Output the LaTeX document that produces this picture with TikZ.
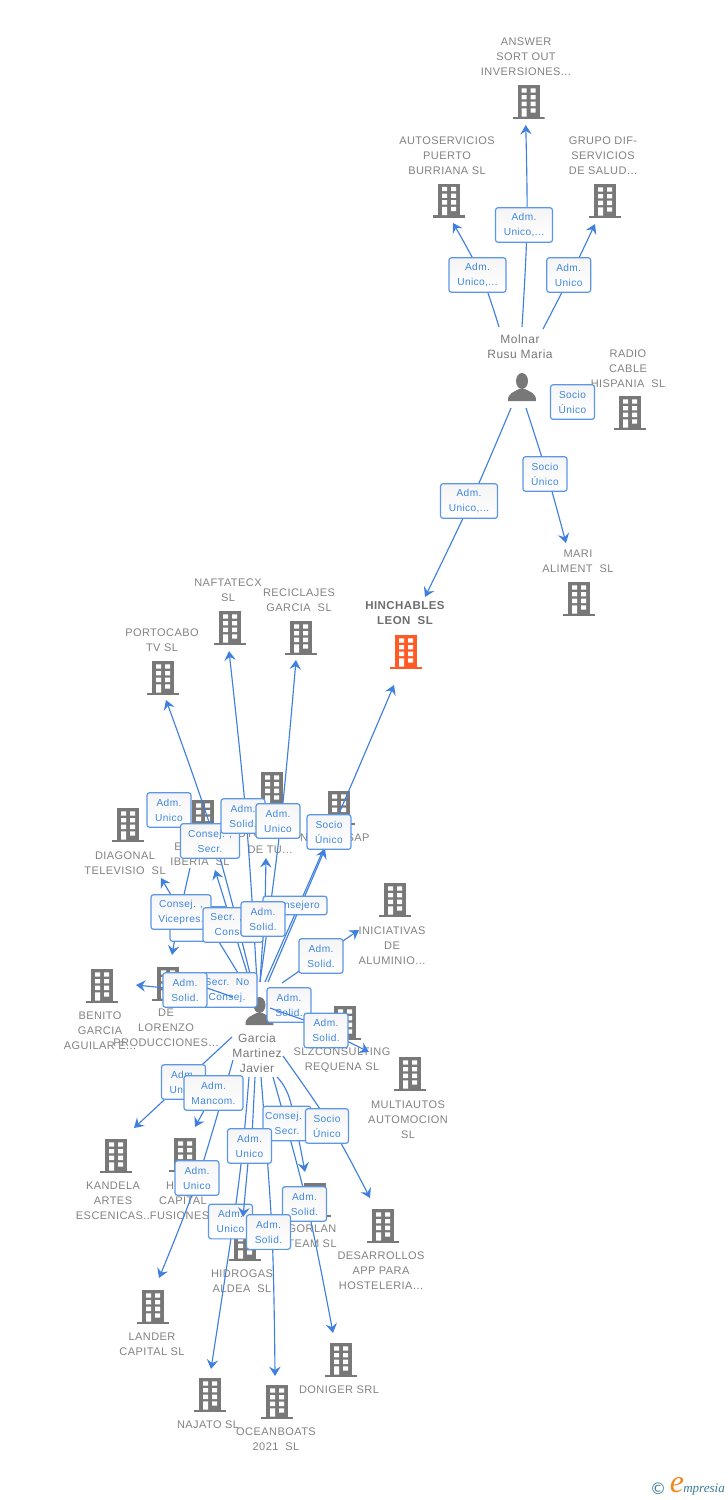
\documentclass[tikz,border=0pt]{standalone}
\usepackage{fontspec}
\setmainfont[LetterSpace=4]{Liberation Sans}
\newfontfamily\logofont{Liberation Serif}
\newfontfamily\symfont{DejaVu Sans}
\usetikzlibrary{arrows.meta}
\definecolor{linec}{HTML}{3F80DE}
\definecolor{boxc}{HTML}{5C96E6}
\definecolor{boxt}{HTML}{3F86E0}
\definecolor{labc}{HTML}{828282}
\definecolor{icon}{HTML}{787878}
\definecolor{hot}{HTML}{FF5A26}
\definecolor{logot}{HTML}{3B7D96}
\definecolor{logoo}{HTML}{F08A1D}
\pgfdeclarelayer{base}
\pgfdeclarelayer{lines}
\pgfsetlayers{base,lines,main}
\newcommand{\bldgshape}[1]{%
  \begin{scope}[shift={(path picture bounding box.center)}]
    \fill[#1] (-11,-17) rectangle (11,15);
    \fill[#1] (-16,14.5) rectangle (16,17);
    \fill[white] (-7,-13.7) rectangle (-2,-9.3) (2,-13.7) rectangle (7,-9.3)
      (-7,-7) rectangle (-2,-2.7) (2,-7) rectangle (7,-2.7)
      (-7,-0.3) rectangle (-2,4) (2,-0.3) rectangle (7,4)
      (-7,6.3) rectangle (-2,14.5) (2,6.3) rectangle (7,10.7);
  \end{scope}}
\newcommand{\personshape}{%
  \begin{scope}[shift={(path picture bounding box.center)}]
    \fill[icon] (0,-6) ellipse (6 and 8);
    \fill[icon] (-14,14) .. controls (-14.5,6) and (-8,5) .. (-3,2) -- (3,2)
      .. controls (8,5) and (14.5,6) .. (14,14) -- cycle;
  \end{scope}}
\tikzset{
  bldg/.style={minimum width=24pt,minimum height=25.5pt,inner sep=0pt,outer sep=0pt,
    path picture={\bldgshape{icon}}},
  bldghot/.style={minimum width=24pt,minimum height=25.5pt,inner sep=0pt,outer sep=0pt,
    path picture={\bldgshape{hot}}},
  person/.style={minimum width=21pt,minimum height=21pt,inner sep=0pt,outer sep=0pt,
    path picture={\personshape}},
  lbl/.style={align=center,text=labc,inner sep=0pt,yshift=-0.6pt,font=\fontsize{8.25}{11.25}\selectfont},
  lblhot/.style={align=center,text=labc!85!black,inner sep=0pt,yshift=-0.6pt,font=\fontsize{8.6}{11.25}\selectfont\bfseries},
  who/.style={align=center,text=icon,inner sep=0pt,font=\fontsize{9}{11.25}\selectfont},
  role/.style={draw=boxc,line width=0.9pt,rounded corners=2pt,top color=black!4,bottom color=white,
    text=boxt,align=center,inner sep=0pt,minimum height=26pt,
    font=\fontsize{7.6}{11.25}\selectfont},
  conn/.style={draw=linec,line width=0.85pt,-{Stealth[length=7pt,width=8.5pt,inset=2.5pt]}},
  wire/.style={draw=linec,line width=0.85pt},
}
\newcommand{\bd}[3]{\node[bldg] (#1) at (#2,#3) {};}
\newcommand{\lb}[4]{\node[lbl] (#1) at (#2,#3) {#4};}
\newcommand{\rolebox}[5]{\node[role,minimum width=#4*0.75pt] (#1) at (#2,#3) {#5};}
\newcommand{\pt}[3]{\coordinate (#1) at (#2,#3);}
% connector: free start, past a role box (x offset in px), to the free end
\newcommand{\cv}[4]{\draw[conn] plot[smooth,tension=0.6] coordinates {(#1) ([xshift=#3*0.75pt]#2.center) (#4)};}
\begin{document}
\begin{tikzpicture}[x=0.75pt,y=-0.75pt]
\useasboundingbox (0,0) rectangle (728,1500);

\begin{pgfonlayer}{base}
\fill[white] (0,0) rectangle (728,1500);
\bd{bAnswer}{528.5}{102}
\bd{bAuto}{449}{200.5}
\bd{bGrupo}{605}{201}
\bd{bRadio}{630}{413}
\bd{bMari}{579}{599}
\node[bldghot] (bHinch) at (406,652) {};
\bd{bPorto}{163}{678}
\bd{bNafta}{230}{628}
\bd{bReci}{301}{638}
\bd{bDiag}{128}{825}
\bd{bIber}{203}{817}
\bd{bTu}{272}{789}
\bd{bSap}{339}{808}
\bd{bInic}{395}{900}
\bd{bBenito}{102}{986}
\bd{bLor}{168}{984}
\bd{bSlz}{345}{1023}
\bd{bMulti}{410}{1074}
\bd{bKand}{116}{1156}
\bd{bHcap}{185}{1155}
\bd{bGorlan}{315}{1200}
\bd{bDesa}{383}{1226}
\bd{bHidro}{245}{1244}
\bd{bLander}{153}{1307}
\bd{bNajato}{210}{1395}
\bd{bOcean}{277}{1402}
\bd{bDoniger}{341}{1360}
\node[person] (pMolnar) at (522,387) {};
\node[person] (pGarcia) at (259.5,1011) {};

\lb{tAnswer}{526}{56}{ANSWER\\SORT OUT\\INVERSIONES...}
\lb{tAuto}{447}{155}{AUTOSERVICIOS\\PUERTO\\BURRIANA SL}
\lb{tGrupo}{603}{155}{GRUPO DIF-\\SERVICIOS\\DE SALUD...}
\lb{tRadio}{628}{368}{RADIO\\CABLE\\HISPANIA~~SL}
\lb{tMari}{578}{560.5}{MARI\\ALIMENT~~SL}
\node[lblhot] (tHinch) at (405,612.5) {HINCHABLES\\LEON~~SL};
\lb{tPorto}{162}{639.5}{PORTOCABO\\TV SL}
\lb{tNafta}{228}{589.5}{NAFTATECX\\SL}
\lb{tReci}{299}{599.5}{RECICLAJES\\GARCIA~~SL}
\lb{tDiag}{125}{862.5}{DIAGONAL\\TELEVISIO~~SL}
\lb{tIberA}{178}{846}{E}
\lb{tIberB}{200}{861}{IBERIA~~SL}
\lb{tTuA}{248}{833}{IOTO}
\lb{tTuB}{270}{849}{DE TU...}
\lb{tSapA}{304}{837}{N}
\lb{tSapB}{358}{837}{SAP}
\lb{tInic}{392}{945}{INICIATIVAS\\DE\\ALUMINIO...}
\lb{tBenito}{100}{1030}{BENITO\\GARCIA\\AGUILAR E...}
\lb{tLor}{166}{1027}{DE\\LORENZO\\PRODUCCIONES...}
\lb{tSlz}{342}{1059.5}{SLZCONSULTING\\REQUENA SL}
\lb{tMulti}{408}{1119}{MULTIAUTOS\\AUTOMOCION\\SL}
\lb{tKand}{113}{1200}{KANDELA\\ARTES\\ESCENICAS..}
\lb{tHcapA}{170}{1185}{H}
\lb{tHcapB}{183}{1207}{CAPITAL\\FUSIONES..}
\lb{tGorlan}{312}{1235.5}{GORLAN\\TEAM SL}
\lb{tDesa}{381}{1270}{DESARROLLOS\\APP PARA\\HOSTELERIA...}
\lb{tHidro}{242}{1280.5}{HIDROGAS\\ALDEA~~SL}
\lb{tLander}{152}{1343.5}{LANDER\\CAPITAL SL}
\lb{tNajato}{208}{1424}{NAJATO SL}
\lb{tOcean}{276}{1438.5}{OCEANBOATS\\2021~~SL}
\lb{tDoniger}{339}{1389}{DONIGER SRL}
\node[who] (nMolnar) at (520,346.5) {Molnar\\Rusu Maria};
\node[who] (nGarcia) at (257,1053) {Garcia\\Martinez\\Javier};
\end{pgfonlayer}

% free ends of the connectors
\pt{sAuto}{499}{327}\pt{eAuto}{453}{223}
\pt{sAns}{522}{327}\pt{eAns}{525.7}{125}
\pt{sGrp}{543}{329}\pt{eGrp}{595}{224}
\pt{sMari}{526}{408}\pt{eMari}{566}{543}
\pt{sHin}{511}{408}\pt{eHin}{425}{597}
\pt{sPort}{252}{982}\pt{ePort}{166}{700}
\pt{sNaf}{257}{982}\pt{eNaf}{229}{651}
\pt{sRec}{260}{982}\pt{eRec}{296}{660}
\pt{sLeon}{265}{982}\pt{eLeon}{394}{685}
\pt{sSap}{268}{982}\pt{eSap}{325}{849}
\pt{sTu}{260}{982}\pt{eTu}{266}{858}
\pt{sIb}{250}{982}\pt{eIb}{215}{870}
\pt{sDia}{238}{973}\pt{mDia}{219}{942}\pt{eDia}{161}{878}
\pt{sLor}{190}{868}\pt{eLor}{172}{955}
\pt{sIni}{282}{983}\pt{eIni}{359}{930}
\pt{sBen}{233}{997}\pt{eBen}{136}{985}
\pt{sSlz}{270}{1008}\pt{eSlz}{369}{1052}
\pt{sKan}{232}{1037}\pt{eKan}{134}{1128}
\pt{sMan}{236}{1078}\pt{eMan}{195}{1127}
\pt{sLan}{233}{1060}\pt{eLan}{159}{1278}
\pt{sNaj}{249}{1077}\pt{eNaj}{211}{1369}
\pt{sHid}{255}{1077}\pt{eHid}{243}{1217}
\pt{sOce}{261}{1077}\pt{eOce}{275}{1376}
\pt{sGor}{277}{1077}\pt{mGor}{290}{1100}\pt{eGor}{305}{1172}
\pt{sDon}{273}{1077}\pt{eDon}{333}{1333}
\pt{sDes}{283}{1056}\pt{eDes}{370}{1198}

% role boxes, in stacking order
\rolebox{rAuto}{477.5}{275}{57}{Adm.\\Unico,...}
\rolebox{rAns}{524}{225}{57}{Adm.\\Unico,...}
\rolebox{rGrp}{568.7}{275}{44}{Adm.\\Unico}
\rolebox{rRad}{572.5}{402}{44}{Socio\\Único}
\rolebox{rMari}{545}{474}{44}{Socio\\Único}
\rolebox{rHin}{469}{501}{57}{Adm.\\Unico,...}
\rolebox{rU1}{169}{810}{44}{Adm.\\Unico}
\rolebox{rPort}{210}{841}{59}{Consej. ,\\Secr.}
\rolebox{rNaf}{243}{816}{44}{Adm.\\Solid.}
\rolebox{rRec}{278}{821}{44}{Adm.\\Unico}
\rolebox{rLeon}{329}{832}{44}{Socio\\Único}
\node[role,minimum width=64*0.75pt,minimum height=14pt] (rCon) at (295,905.5) {Consejero};
\rolebox{rLorB}{199}{924}{58}{}
\rolebox{rDia}{181}{912}{60}{Consej. ,\\Vicepres.}
\rolebox{rIb}{233}{925}{60}{Secr. ,\hspace*{10pt}\\Consej.}
\rolebox{rTu}{263}{919}{44}{Adm.\\Solid.}
\rolebox{rIni}{321}{956}{44}{Adm.\\Solid.}
\rolebox{rSec}{227}{990}{60}{Secr.~~No\\Consej.}
\draw[wire] (sBen) -- (207,988);
\rolebox{rBen}{185}{990}{44}{Adm.\\Solid.}
\rolebox{rSlzA}{289}{1005}{44}{Adm.\\Solid.}
\draw[wire] (sSlz) -- (304,1020);
\rolebox{rSlz}{326}{1030.5}{44}{Adm.\\Solid.}
\rolebox{rKan}{183.5}{1082}{44}{Adm.\\Unico}
\rolebox{rMan}{213.5}{1093}{59}{Adm.\\Mancom.}
\rolebox{rGor}{287}{1123.5}{48}{Consej. ,\\Secr.}
\rolebox{rDes}{327}{1126}{43}{Socio\\Único}
\rolebox{rHid}{249.5}{1146}{44}{Adm.\\Unico}
\rolebox{rLan}{197}{1178}{44}{Adm.\\Unico}
\rolebox{rDon}{304.5}{1204}{44}{Adm.\\Solid.}
\rolebox{rNaj}{230.5}{1221.5}{44}{Adm.\\Unico}
\draw[conn] (rHid.south west)++(21,0) -- (eHid);
\rolebox{rOce}{268.5}{1232}{44}{Adm.\\Solid.}

\begin{pgfonlayer}{lines}
\cv{sAuto}{rAuto}{3.5}{eAuto}
\cv{sAns}{rAns}{3}{eAns}
\cv{sGrp}{rGrp}{2}{eGrp}
\cv{sMari}{rMari}{2}{eMari}
\cv{sHin}{rHin}{2}{eHin}
\cv{sPort}{rPort}{5}{ePort}
\cv{sNaf}{rNaf}{3}{eNaf}
\cv{sRec}{rRec}{3}{eRec}
\cv{sLeon}{rLeon}{2}{eLeon}
\draw[conn] (sSap) -- (eSap);
\draw[conn] (sTu) -- ([xshift=2pt]rCon.west) -- (eTu);
\draw[conn] (sIb) -- (eIb);
\draw[conn] (sDia) -- (mDia) -- (rDia.center) -- (eDia);
\draw[conn] (sLor) -- ([xshift=6pt]rLorB.west) -- (eLor);
\cv{sIni}{rIni}{0}{eIni}
\draw[conn] (rBen.center) -- (eBen);
\draw[conn] (rSlz.center) -- (eSlz);
\cv{sKan}{rKan}{0}{eKan}
\draw[conn] (sMan) -- (rMan.center) -- (eMan);
\cv{sLan}{rLan}{1}{eLan}
\draw[conn] plot[smooth,tension=0.6] coordinates {(sNaj) ([xshift=-4.9pt]rHid.center) ([xshift=2.2pt]rNaj.center) (eNaj)};
\draw[wire] (sHid) -- ([xshift=1.5pt]rHid.center);
\cv{sOce}{rOce}{3.5}{eOce}
\draw[conn] plot[smooth,tension=0.6] coordinates {(sGor) (mGor) (eGor)};
\cv{sDon}{rDon}{2.5}{eDon}
\cv{sDes}{rDes}{4}{eDes}
\end{pgfonlayer}

% logo
\node[text=logot,inner sep=0pt,font=\symfont\fontsize{12}{12}\selectfont] (logoC) at (658,1489) {©};
\node[inner sep=0pt,text=logoo,font=\logofont\itshape\fontsize{24}{24}\selectfont] (logoE) at (677,1485) {e};
\node[anchor=west,inner sep=0pt,text=logot,font=\logofont\itshape\fontsize{9.8}{12}\selectfont] (logoM) at (683,1489.5) {mpresia};
\end{tikzpicture}
\end{document}
